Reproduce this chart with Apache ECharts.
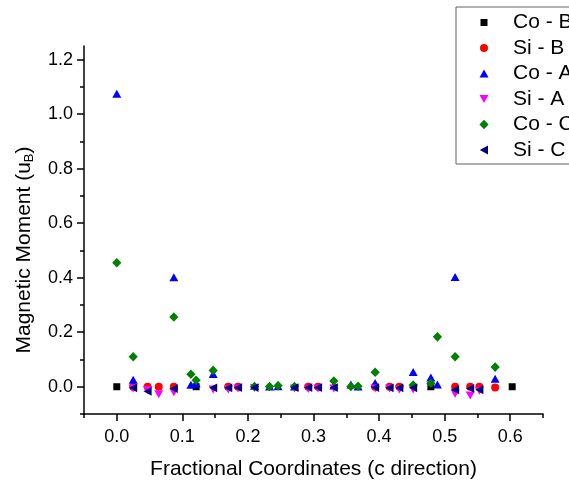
<!DOCTYPE html>
<html>
<head>
<meta charset="utf-8">
<script src="https://cdn.jsdelivr.net/npm/echarts@6/dist/echarts.min.js"></script>
<style>
  html, body { margin: 0; padding: 0; background: #fff; }
  #chart { width: 569px; height: 482px; }
</style>
</head>
<body>
<div id="chart"></div>
<script>
// Tick positions along each axis
const xMajorTicks = [0, 0.1, 0.2, 0.3, 0.4, 0.5, 0.6];
const xMinorTicks = [-0.05, 0.05, 0.15, 0.25, 0.35, 0.45, 0.55, 0.65];
const yMajorTicks = [0, 0.2, 0.4, 0.6, 0.8, 1.0, 1.2];
const yMinorTicks = [-0.1, 0.1, 0.3, 0.5, 0.7, 0.9, 1.1];

// Magnetic moment per site: [fractional coordinate, moment]
const coB = [[0, 0], [0.121, 0], [0.479, 0], [0.603, 0]];
const siB = [[0.025, 0], [0.047, 0], [0.064, 0], [0.087, 0], [0.170, 0], [0.185, 0],
  [0.292, 0], [0.307, 0], [0.394, 0], [0.416, 0], [0.431, 0], [0.516, 0],
  [0.539, 0], [0.553, 0], [0.577, -0.003]];
const coA = [[0, 1.075], [0.025, 0.026], [0.087, 0.402], [0.113, 0.007], [0.121, 0.012],
  [0.147, 0.047], [0.210, 0.004], [0.233, 0.001], [0.246, 0.002], [0.271, 0.001],
  [0.331, 0.005], [0.357, 0.008], [0.368, 0.001], [0.394, 0.014], [0.452, 0.054],
  [0.479, 0.034], [0.489, 0.008], [0.516, 0.403], [0.577, 0.029]];
const siA = [[0.025, -0.006], [0.047, -0.012], [0.064, -0.028], [0.087, -0.02],
  [0.147, -0.01], [0.170, -0.01], [0.185, -0.006], [0.210, -0.005], [0.271, -0.006],
  [0.292, -0.008], [0.307, -0.006], [0.331, -0.006], [0.394, -0.006], [0.416, -0.006],
  [0.431, -0.01], [0.452, -0.01], [0.516, -0.026], [0.539, -0.032], [0.553, -0.015]];
const coC = [[0, 0.455], [0.025, 0.11], [0.087, 0.256], [0.113, 0.046], [0.121, 0.024],
  [0.147, 0.06], [0.210, 0.001], [0.233, 0.001], [0.246, 0.004], [0.271, 0.001],
  [0.331, 0.021], [0.357, 0.001], [0.368, 0.002], [0.394, 0.053], [0.452, 0.006],
  [0.479, 0.013], [0.489, 0.183], [0.516, 0.11], [0.577, 0.072]];
const siC = [[0.025, -0.004], [0.047, -0.017], [0.087, -0.007], [0.147, -0.004],
  [0.170, -0.004], [0.185, -0.003], [0.210, -0.003], [0.271, -0.003], [0.292, -0.003],
  [0.307, -0.003], [0.331, -0.003], [0.394, -0.003], [0.416, -0.004], [0.431, -0.004],
  [0.452, -0.004], [0.516, -0.011], [0.539, -0.006], [0.553, -0.011]];

// Marker outlines, each drawn inside a 10x10 box so series and legend share sizes
const SHAPES = {
  square: 'path://M0,0M1.5,1.5L8.5,1.5L8.5,8.5L1.5,8.5ZM10,10',
  circle: 'path://M0,0M5,1A4,4 0 1,1 5,9A4,4 0 1,1 5,1ZM10,10',
  up: 'path://M0,0M0.5,9L9.5,9L5,1ZM10,10',
  down: 'path://M0,0M0.5,1L9.5,1L5,9ZM10,10',
  diamond: 'path://M0,0M5,0.2L9.6,5L5,9.8L0.4,5ZM10,10',
  left: 'path://M0,0M0.8,5L9,0.6L9,9.4ZM10,10'
};

const FONT = '"Liberation Sans", Arial, Helvetica, sans-serif';

function scatter(name, data, symbol, color) {
  return {
    name: name,
    type: 'scatter',
    data: data,
    symbol: symbol,
    symbolSize: 10,
    symbolKeepAspect: true,
    itemStyle: { color: color, opacity: 1 },
    xAxisIndex: 0,
    yAxisIndex: 0,
    emphasis: { disabled: true }
  };
}

const axisLineStyle = { color: '#000', width: 1.5 };

const chart = echarts.init(document.getElementById('chart'), null, { renderer: 'canvas' });
chart.setOption({
  animation: false,
  backgroundColor: '#fff',
  textStyle: { fontFamily: FONT },
  grid: { left: 84, right: 26, top: 46, bottom: 68, containLabel: false, outerBoundsMode: 'none' },
  legend: {
    orient: 'vertical',
    left: 456,
    top: 7,
    padding: [5, 40, 3.5, 23],
    itemWidth: 10,
    itemHeight: 10,
    itemGap: 4.5,
    symbolKeepAspect: true,
    borderColor: '#606060',
    borderWidth: 1,
    backgroundColor: '#fff',
    textStyle: { fontFamily: FONT, fontSize: 21, color: '#000', padding: [0, 0, 0, 19] },
    data: ['Co - B', 'Si - B', 'Co - A', 'Si - A', 'Co - C', 'Si - C']
  },
  xAxis: [
    {
      type: 'value',
      min: -0.05,
      max: 0.65,
      name: 'Fractional Coordinates (c direction)',
      nameLocation: 'middle',
      nameGap: 45,
      nameTextStyle: { fontFamily: FONT, fontSize: 21, color: '#000' },
      axisLine: { show: true, onZero: false, lineStyle: axisLineStyle },
      axisTick: { show: true, inside: false, length: 7, customValues: xMajorTicks, lineStyle: axisLineStyle },
      axisLabel: {
        show: true, customValues: xMajorTicks, margin: 14,
        fontFamily: FONT, fontSize: 18, color: '#000',
        formatter: function (v) { return v.toFixed(1); }
      },
      splitLine: { show: false }
    },
    {
      type: 'value',
      min: -0.05,
      max: 0.65,
      position: 'bottom',
      axisLine: { show: false, onZero: false },
      axisTick: { show: true, inside: false, length: 4, customValues: xMinorTicks, lineStyle: axisLineStyle },
      axisLabel: { show: false },
      splitLine: { show: false }
    }
  ],
  yAxis: [
    {
      type: 'value',
      min: -0.1,
      max: 1.25,
      name: '{t|Magnetic Moment (u}{s|B}{t|)}',
      nameLocation: 'middle',
      nameGap: 48,
      nameRotate: 90,
      nameTextStyle: {
        fontFamily: FONT, fontSize: 21, color: '#000',
        padding: [0, 40, 0, 0],
        rich: {
          t: { fontFamily: FONT, fontSize: 21, color: '#000' },
          s: { fontFamily: FONT, fontSize: 13, color: '#000', padding: [10, 0, 0, 0] }
        }
      },
      axisLine: { show: true, onZero: false, lineStyle: axisLineStyle },
      axisTick: { show: true, inside: false, length: 7, customValues: yMajorTicks, lineStyle: axisLineStyle },
      axisLabel: {
        show: true, customValues: yMajorTicks, margin: 11,
        fontFamily: FONT, fontSize: 18, color: '#000',
        formatter: function (v) { return v.toFixed(1); }
      },
      splitLine: { show: false }
    },
    {
      type: 'value',
      min: -0.1,
      max: 1.25,
      position: 'left',
      axisLine: { show: false, onZero: false },
      axisTick: { show: true, inside: false, length: 4, customValues: yMinorTicks, lineStyle: axisLineStyle },
      axisLabel: { show: false },
      splitLine: { show: false }
    }
  ],
  series: [
    scatter('Co - B', coB, SHAPES.square, '#000000'),
    scatter('Si - B', siB, SHAPES.circle, '#ff0000'),
    scatter('Co - A', coA, SHAPES.up, '#0000ff'),
    scatter('Si - A', siA, SHAPES.down, '#ff00ff'),
    scatter('Co - C', coC, SHAPES.diamond, '#008000'),
    scatter('Si - C', siC, SHAPES.left, '#000080')
  ]
});
</script>
</body>
</html>
